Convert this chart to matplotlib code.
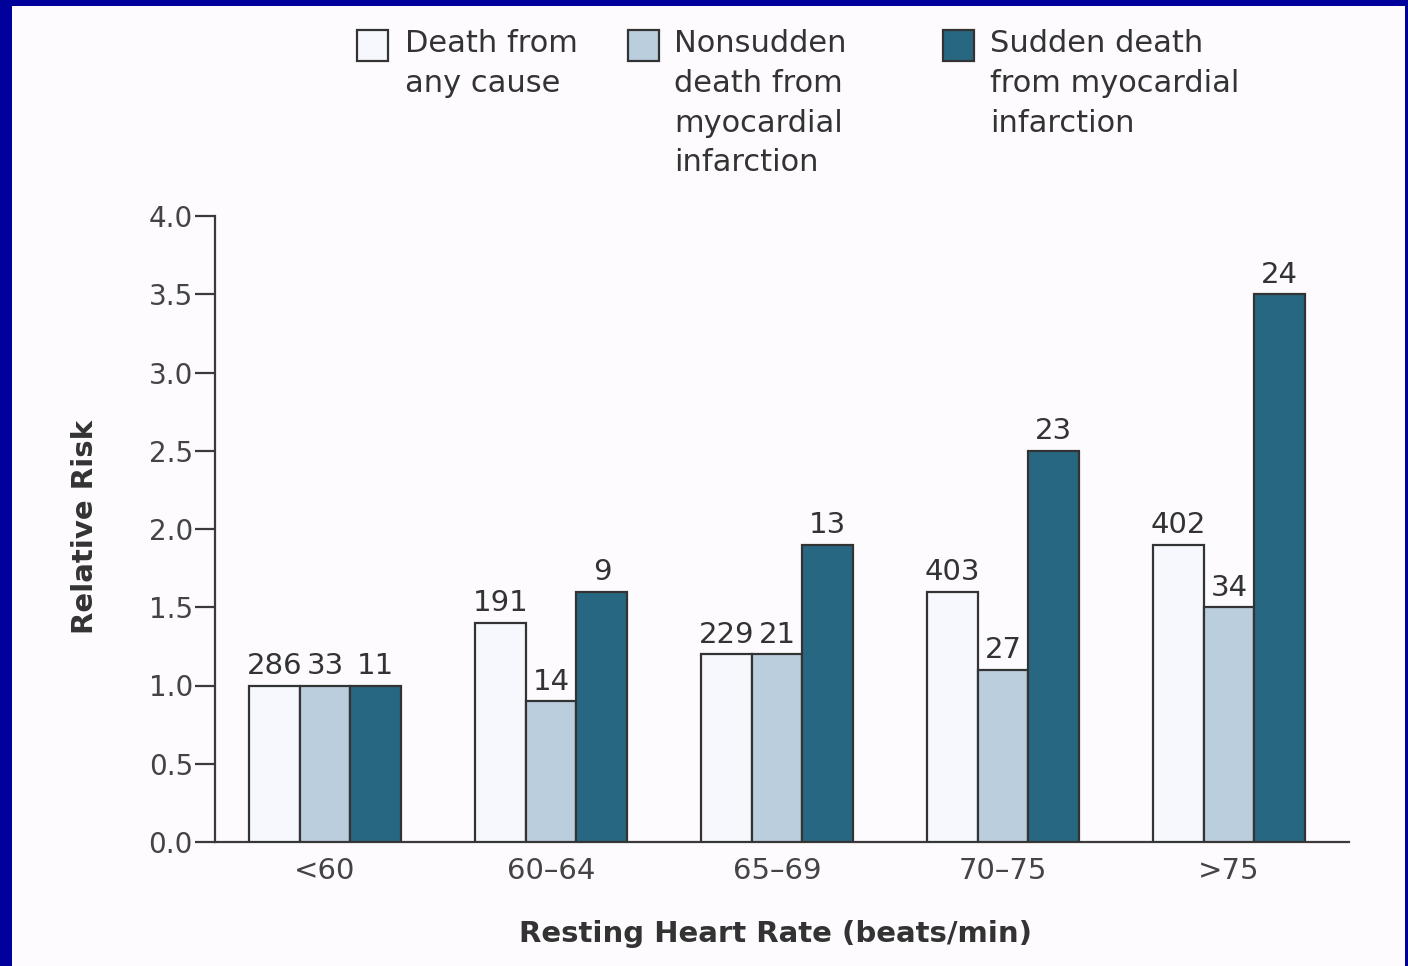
import matplotlib.pyplot as plt
import numpy as np
from matplotlib.patches import Rectangle

plt.rcParams['font.family'] = ['DejaVu Sans']

# data
groups = ['<60', '60\u201364', '65\u201369', '70\u201375', '>75']
series = ['Death from\nany cause',
          'Nonsudden\ndeath from\nmyocardial\ninfarction',
          'Sudden death\nfrom myocardial\ninfarction']
any_cause = [1.0, 1.4, 1.2, 1.6, 1.9]
nonsudden = [1.0, 0.9, 1.2, 1.1, 1.5]
sudden = [1.0, 1.6, 1.9, 2.5, 3.5]
n_any = [286, 191, 229, 403, 402]
n_nonsudden = [33, 14, 21, 27, 34]
n_sudden = [11, 9, 13, 23, 24]

colors = ['#f6f8fd', '#bbcedd', '#286781']
edge = '#333333'
txt = '#333333'

W, H = 1408, 966
fig = plt.figure(figsize=(W / 100, H / 100), dpi=100)
fig.patch.set_facecolor('#00009a')
fig.patches.append(Rectangle((12 / W, 0), (1405 - 12) / W, (H - 6) / H,
                             transform=fig.transFigure, facecolor='#fdfbfe',
                             edgecolor='none', zorder=-1))

ax = fig.add_axes([215 / W, (H - 842) / H, (1349 - 215) / W, (842 - 216) / H])
ax.set_facecolor('none')

x = np.arange(len(groups))
bw = 0.225
vals = [any_cause, nonsudden, sudden]
counts = [n_any, n_nonsudden, n_sudden]
for i, (v, n) in enumerate(zip(vals, counts)):
    pos = x + (i - 1) * bw
    bars = ax.bar(pos, v, width=bw, color=colors[i], edgecolor=edge,
                  linewidth=1.6, zorder=3)
    for b, c in zip(bars, n):
        ax.annotate(str(c), (b.get_x() + b.get_width() / 2, b.get_height()),
                    xytext=(0, 4), textcoords='offset points',
                    ha='center', va='bottom', fontsize=21, color=txt)

ax.set_xlim(-0.487, 4.531)
ax.set_ylim(0, 4.0)
ax.set_yticks(np.arange(0, 4.01, 0.5))
ax.set_yticklabels([f'{t:.1f}' for t in np.arange(0, 4.01, 0.5)])
ax.set_xticks(x)
ax.set_xticklabels(groups)

for s in ['top', 'right']:
    ax.spines[s].set_visible(False)
for s in ['left', 'bottom']:
    ax.spines[s].set_color('#3a3a3a')
    ax.spines[s].set_linewidth(1.6)

ax.tick_params(axis='y', length=14.4, width=1.6, color='#3a3a3a', pad=1.5,
               labelsize=20, labelcolor='#444444')
ax.tick_params(axis='x', length=0, pad=11, labelsize=21, labelcolor='#444444')

ax.set_xlabel('Resting Heart Rate (beats/min)', fontsize=21, fontweight='bold',
              color=txt)
ax.xaxis.set_label_coords(0.4947, -0.147)
ax.xaxis.label.set_va('center')
ax.set_ylabel('Relative Risk', fontsize=21, fontweight='bold', color=txt)
ax.yaxis.set_label_coords((85 - 215) / 1134, (842 - 527) / 626)
ax.yaxis.label.set_va('center')

# legend drawn by hand: square swatch + multi-line label, top aligned
sq_x = [357, 628, 943]
tx_x = [405, 674, 990]
for sx, tx, col, lab in zip(sq_x, tx_x, colors, series):
    fig.patches.append(Rectangle((sx / W, 1 - 61 / H), 31 / W, 31 / H,
                                 transform=fig.transFigure, facecolor=col,
                                 edgecolor=edge, linewidth=1.6, zorder=2))
    fig.text(tx / W, 1 - 29 / H, lab, ha='left', va='top', fontsize=22,
             color=txt, linespacing=1.47)

fig.savefig('out.png', dpi=100, facecolor=fig.get_facecolor())
